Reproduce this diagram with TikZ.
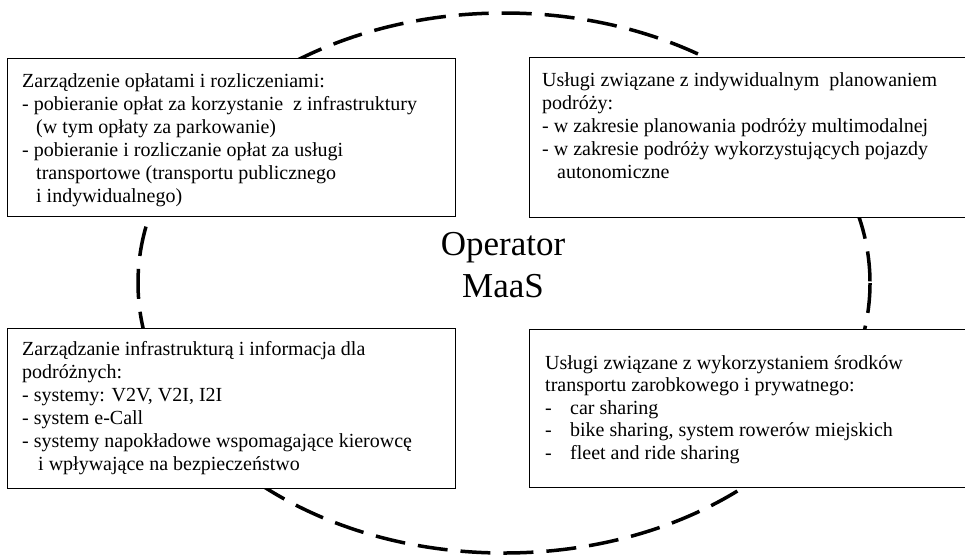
\documentclass[tikz,border=0pt]{standalone}
\usepackage{fontspec}
\setmainfont{Liberation Serif}
\begin{document}
\begin{tikzpicture}[x=1pt,y=-1pt,
  box/.style={draw=black, line width=1.2pt, fill=white, anchor=north west, inner sep=0pt},
  txt/.style={anchor=base west, inner sep=0pt, font=\fontsize{20}{23}\selectfont},
  big/.style={anchor=base, inner sep=0pt, font=\fontsize{35}{42}\selectfont},
  ring/.style={line width=3.5pt, dash pattern=on 30pt off 13pt}]
\useasboundingbox (0,0) rectangle (965,555);
% dashed ellipse
\draw[ring] (504,283) ellipse [x radius=366, y radius=270];
% boxes (the right-hand ones run off the picture's right edge)
\node[box, minimum width=448pt, minimum height=158pt] (b1) at (7,58) {};
\node[box, minimum width=600pt, minimum height=160pt] (b2) at (529,57) {};
\node[box, minimum width=448pt, minimum height=160pt] (b3) at (7,328) {};
\node[box, minimum width=600pt, minimum height=158pt] (b4) at (529,329) {};
% centre
\node[big] (op1) at (503,255) {Operator};
\node[big] (op2) at (503,297) {MaaS};
% box 1
\foreach \t [count=\i from 0] in {
  {Zarządzenie opłatami i rozliczeniami:},
  {- pobieranie opłat za korzystanie \ z infrastruktury},
  {\hspace*{14pt}(w tym opłaty za parkowanie)},
  {- pobieranie i rozliczanie opłat za usługi},
  {\hspace*{14pt}transportowe (transportu publicznego},
  {\hspace*{14pt}i indywidualnego)}}
  \node[txt] (a\i) at (22,{87+23*\i}) {\t};
% box 2
\foreach \t [count=\i from 0] in {
  {Usługi związane z indywidualnym \ planowaniem},
  {podróży:},
  {- w zakresie planowania podróży multimodalnej},
  {- w zakresie podróży wykorzystujących pojazdy},
  {\hspace*{15pt}autonomiczne}}
  \node[txt] (c\i) at (542,{86+23*\i}) {\t};
% box 3
\foreach \t [count=\i from 0] in {
  {Zarządzanie infrastrukturą i informacja dla},
  {podróżnych:},
  {- systemy: V2V, V2I, I2I},
  {- system e-Call},
  {- systemy napokładowe wspomagające kierowcę},
  {\hspace*{16pt}i wpływające na bezpieczeństwo}}
  \node[txt] (d\i) at (22,{355+23*\i}) {\t};
% box 4
\foreach \t [count=\i from 0] in {
  {Usługi związane z wykorzystaniem środków},
  {transportu zarobkowego i prywatnego:},
  {\makebox[25pt][l]{-}car sharing},
  {\makebox[25pt][l]{-}bike sharing, system rowerów miejskich},
  {\makebox[25pt][l]{-}fleet and ride sharing}}
  \node[txt] (e\i) at (545,{369+22.5*\i}) {\t};
\end{tikzpicture}
\end{document}
